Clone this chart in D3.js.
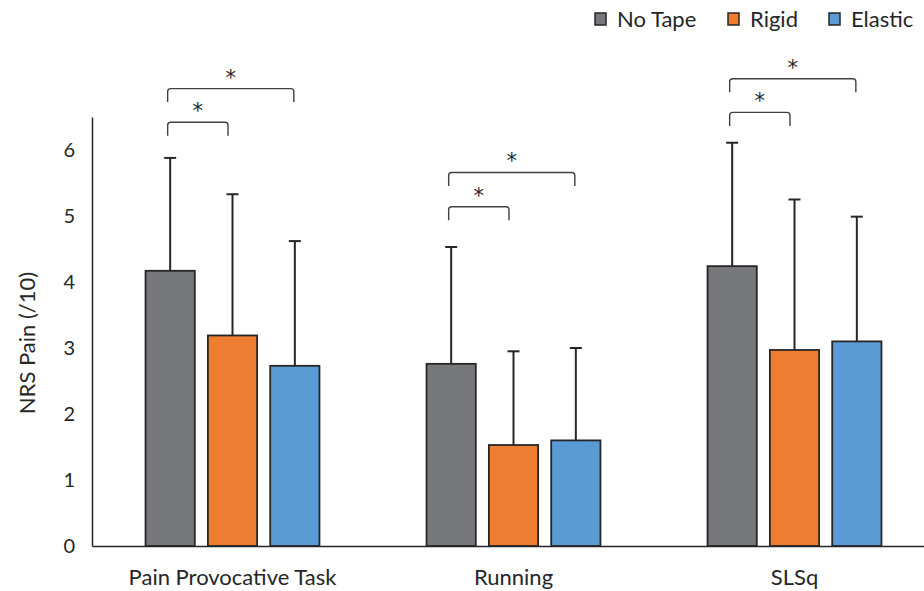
<!DOCTYPE html>
<html><head><meta charset="utf-8">
<script src="https://cdn.jsdelivr.net/npm/d3@7"></script>
<style>body{margin:0;background:#fff}svg{display:block}text{font-family:Lato,"Open Sans",sans-serif;fill:#262626}</style>
</head><body><div id="chart"></div>
<script>
const categories = ["Pain Provocative Task", "Running", "SLSq"];
const seriesNames = ["No Tape", "Rigid", "Elastic"];
const noTape = [4.17, 2.76, 4.24];
const rigid = [3.19, 1.53, 2.97];
const elastic = [2.73, 1.60, 3.10];
const noTapeSD = [1.71, 1.77, 1.87];
const rigidSD = [2.14, 1.42, 2.28];
const elasticSD = [1.89, 1.40, 1.89];
const yTicks = [0, 1, 2, 3, 4, 5, 6];
// significance brackets (NRS units for bracket level)
const sigFrom = ["No Tape", "No Tape", "No Tape", "No Tape", "No Tape", "No Tape"];
const sigTo = ["Rigid", "Elastic", "Rigid", "Elastic", "Rigid", "Elastic"];
const sigCat = ["Pain Provocative Task", "Pain Provocative Task", "Running", "Running", "SLSq", "SLSq"];
const sigLevel = [6.42, 6.93, 5.14, 5.66, 6.57, 7.08];

const colors = {"No Tape": "#77787b", "Rigid": "#ed7d31", "Elastic": "#5b9bd5"};
const W = 924, H = 591;
const FONT = "Lato, 'Open Sans', sans-serif";
const svg = d3.select("#chart").append("svg").attr("width", W).attr("height", H);

const x0 = d3.scaleBand().domain(categories).range([92, 935]);
const x1 = d3.scaleBand().domain(seriesNames).range([-93.5, 93.5]).paddingInner(0.21).paddingOuter(0.105);
const y = d3.scaleLinear().domain([0, 6.5]).range([546, 117]);

const valsBySeries = {"No Tape": noTape, "Rigid": rigid, "Elastic": elastic};
const sdBySeries = {"No Tape": noTapeSD, "Rigid": rigidSD, "Elastic": elasticSD};
const data = [];
categories.forEach((c, i) => seriesNames.forEach(s => data.push({c, s, v: valsBySeries[s][i], sd: sdBySeries[s][i]})));
const cx = (c, s) => x0(c) + x0.bandwidth() / 2 + x1(s) + x1.bandwidth() / 2;

// y axis
const yAxis = svg.append("g").attr("transform", "translate(92,0)")
  .call(d3.axisLeft(y).tickValues(yTicks).tickSize(0).tickPadding(17).tickFormat(d3.format("d")));
yAxis.select(".domain").attr("stroke", "#262626").attr("stroke-width", 1.5);
yAxis.selectAll("text").attr("font-size", 20).style("font-family", FONT).attr("fill", "#262626");

// bars
svg.append("g").selectAll("rect").data(data).join("rect")
  .attr("x", d => x0(d.c) + x0.bandwidth() / 2 + x1(d.s))
  .attr("width", x1.bandwidth())
  .attr("y", d => y(d.v))
  .attr("height", d => y(0) - y(d.v))
  .attr("fill", d => colors[d.s])
  .attr("stroke", "#262626").attr("stroke-width", 1.8);

// error bars
const eb = svg.append("g").attr("stroke", "#262626").attr("stroke-width", 2);
eb.selectAll("line.v").data(data).join("line").attr("class", "v")
  .attr("x1", d => cx(d.c, d.s)).attr("x2", d => cx(d.c, d.s))
  .attr("y1", d => y(d.v)).attr("y2", d => y(d.v + d.sd));
eb.selectAll("line.cap").data(data).join("line").attr("class", "cap")
  .attr("x1", d => cx(d.c, d.s) - 6).attr("x2", d => cx(d.c, d.s) + 6)
  .attr("y1", d => y(d.v + d.sd)).attr("y2", d => y(d.v + d.sd));

// x axis
const xAxis = svg.append("g").attr("transform", "translate(0,546)")
  .call(d3.axisBottom(x0).tickSize(0).tickPadding(23));
xAxis.select(".domain").attr("stroke", "#262626").attr("stroke-width", 1.5);
xAxis.selectAll("text").attr("font-size", 22).style("font-family", FONT).attr("fill", "#262626");

// y label
svg.append("text").attr("transform", "translate(35,343) rotate(-90)")
  .attr("text-anchor", "middle").attr("font-size", 22).text("NRS Pain (/10)");

// significance brackets
const sig = svg.append("g");
sigLevel.forEach((lv, i) => {
  const xa = cx(sigCat[i], sigFrom[i]) - 2.5;
  const xb = cx(sigCat[i], sigTo[i]) - (sigTo[i] === "Rigid" ? 4.5 : 1);
  const yt = y(lv), leg = 13.5, r = 3;
  sig.append("path")
    .attr("d", `M${xa},${yt + leg} L${xa},${yt + r} Q${xa},${yt} ${xa + r},${yt} L${xb - r},${yt} Q${xb},${yt} ${xb},${yt + r} L${xb},${yt + leg}`)
    .attr("fill", "none").attr("stroke", "#404040").attr("stroke-width", 1.4);
  sig.append("text").attr("x", (xa + xb) / 2).attr("y", yt - 4)
    .attr("text-anchor", "middle").attr("font-size", 21)
    .style("font-family", "'DejaVu Sans', sans-serif").attr("fill", "#262626").text("*");
});

// legend
const lgX = [595, 728, 829];
const lg = svg.append("g");
seriesNames.forEach((s, i) => {
  lg.append("rect").attr("x", lgX[i]).attr("y", 13).attr("width", 11).attr("height", 12)
    .attr("fill", colors[s]).attr("stroke", "#262626").attr("stroke-width", 1.5);
  lg.append("text").attr("x", lgX[i] + 22).attr("y", 26.5).attr("font-size", 22).text(s);
});
</script></body></html>
